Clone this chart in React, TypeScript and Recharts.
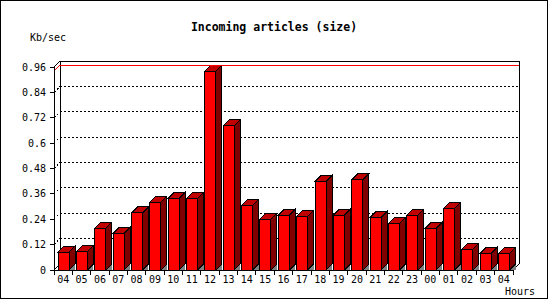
import React from 'react';
import * as R from 'recharts';

const { BarChart, Bar, XAxis, YAxis, CartesianGrid, ReferenceLine, Customized } = R as any;

const hours = ['04','05','06','07','08','09','10','11','12','13','14','15','16','17','18','19','20','21','22','23','00','01','02','03','04'];
const kbPerSec = [0.084,0.088,0.197,0.173,0.27,0.32,0.339,0.339,0.94,0.681,0.306,0.24,0.26,0.254,0.419,0.26,0.426,0.249,0.221,0.259,0.197,0.292,0.098,0.079,0.079];
const yTicks = [0,0.12,0.24,0.36,0.48,0.6,0.72,0.84,0.96];

const title = 'Incoming articles (size)';
const yLabel = 'Kb/sec';
const xLabel = 'Hours';

const data = hours.map((h, i) => ({ hour: h, value: kbPerSec[i] }));
const maxValue = Math.max(...kbPerSec);

const D = 6;
const MONO = '"DejaVu Sans Mono", "Liberation Mono", monospace';

const Bar3D = (p: any) => {
  const { x, y, width: w, height: h } = p;
  if (w == null || h == null) return null;
  return (
    <g>
      <polygon points={`${x + w},${y + h} ${x + w + D},${y + h - D} ${x + w + D},${y + h}`} fill="#808080" />
      <polygon points={`${x + w},${y} ${x + w + D},${y - D} ${x + w + D},${y + h - D} ${x + w},${y + h}`} fill="#800000" stroke="#000" />
      <polygon points={`${x},${y} ${x + D},${y - D} ${x + w + D},${y - D} ${x + w},${y}`} fill="#c00000" stroke="#000" />
      <rect x={x} y={y} width={w} height={h} fill="#ff0000" stroke="#000" />
    </g>
  );
};

const GridLine = (p: any) => {
  const { x1, x2, y1 } = p;
  const top = p.y;
  const bottom = p.y + p.height;
  if (Math.abs(y1 - top) < 1 || Math.abs(y1 - bottom) < 1) return <g key={p.key} />;
  return (
    <g key={p.key}>
      <line x1={x1} y1={y1} x2={x1 + D} y2={y1 - D} stroke="#000" strokeDasharray="2 2" />
      <line x1={x1 + D} y1={y1 - D} x2={x2 + D} y2={y1 - D} stroke="#000" strokeDasharray="2 2" />
    </g>
  );
};

const MaxLine = (p: any) => {
  const { x1, x2, y1 } = p;
  return (
    <g>
      <line x1={x1} y1={y1} x2={x1 + D} y2={y1 - D} stroke="#ff0000" />
      <line x1={x1 + D} y1={y1 - D} x2={x2 + D} y2={y1 - D} stroke="#ff0000" />
    </g>
  );
};

const XTick = (p: any) => {
  const { x, y, payload, index, width, visibleTicksCount } = p;
  const band = width / visibleTicksCount;
  const left = x - band / 2;
  return (
    <g>
      <line x1={left} y1={y} x2={left} y2={y + 5} stroke="#000" />
      {index === visibleTicksCount - 1 && (
        <line x1={x + band / 2} y1={y} x2={x + band / 2} y2={y + 5} stroke="#000" />
      )}
      <text x={x} y={y + 13} textAnchor="middle" fontSize={10} fontFamily={MONO} fill="#000">
        {payload.value}
      </text>
    </g>
  );
};

const Frame = () => {
  const pa = (R as any).usePlotArea ? (R as any).usePlotArea() : null;
  const texts = (
    <g>
      <text x={274} y={31} textAnchor="middle" fontSize={11.5} fontWeight="bold" fontFamily={MONO} fill="#000">{title}</text>
      <text x={30} y={41} fontSize={10} fontFamily={MONO} fill="#000">{yLabel}</text>
      <text x={505} y={295} fontSize={10} fontFamily={MONO} fill="#000">{xLabel}</text>
    </g>
  );
  if (!pa) return texts;
  const { x, y, width: w, height: h } = pa;
  return (
    <g>
      {texts}
      <polyline points={`${x},${y} ${x + D},${y - D} ${x + w + D},${y - D} ${x + w + D},${y + h - D} ${x + w},${y + h}`} fill="none" stroke="#000" />
      <line x1={x + D} y1={y - D} x2={x + D} y2={y + h - D} stroke="#000" />
      <line x1={x} y1={y + h} x2={x + D} y2={y + h - D} stroke="#000" />
      <line x1={x} y1={y + h} x2={x} y2={y + h + 5} stroke="#000" />
    </g>
  );
};

export default function App() {
  return (
    <div style={{ position: 'absolute', left: 0, top: 0, width: 550, height: 300, background: '#fff' }}>
      <BarChart
        width={550}
        height={300}
        data={data}
        margin={{ top: 67, right: 37, left: 0, bottom: 0 }}
        style={{ shapeRendering: 'crispEdges' }}
      >
        <CartesianGrid vertical={false} horizontal={GridLine} />
        <Customized component={Frame} />
        <ReferenceLine y={maxValue} shape={MaxLine} ifOverflow="extendDomain" />
        <XAxis
          dataKey="hour"
          height={30}
          tickSize={0}
          tickMargin={0}
          tickLine={false}
          axisLine={{ stroke: '#000' }}
          interval={0}
          tick={<XTick />}
        />
        <YAxis
          width={54}
          domain={[0, 0.96]}
          ticks={yTicks}
          interval={0}
          tickSize={4}
          tickMargin={4}
          axisLine={{ stroke: '#000' }}
          tickLine={{ stroke: '#000' }}
          tick={{ fill: '#000', fontSize: 10, fontFamily: MONO }}
          tickFormatter={(v: number) => String(+v.toFixed(2))}
        />
        <Bar dataKey="value" barSize={11} shape={<Bar3D />} isAnimationActive={false} />
      </BarChart>
      <div style={{ position: 'absolute', left: 0, top: 0, width: 548, height: 299, boxSizing: 'border-box', border: '1px solid #000', pointerEvents: 'none' }} />
    </div>
  );
}
